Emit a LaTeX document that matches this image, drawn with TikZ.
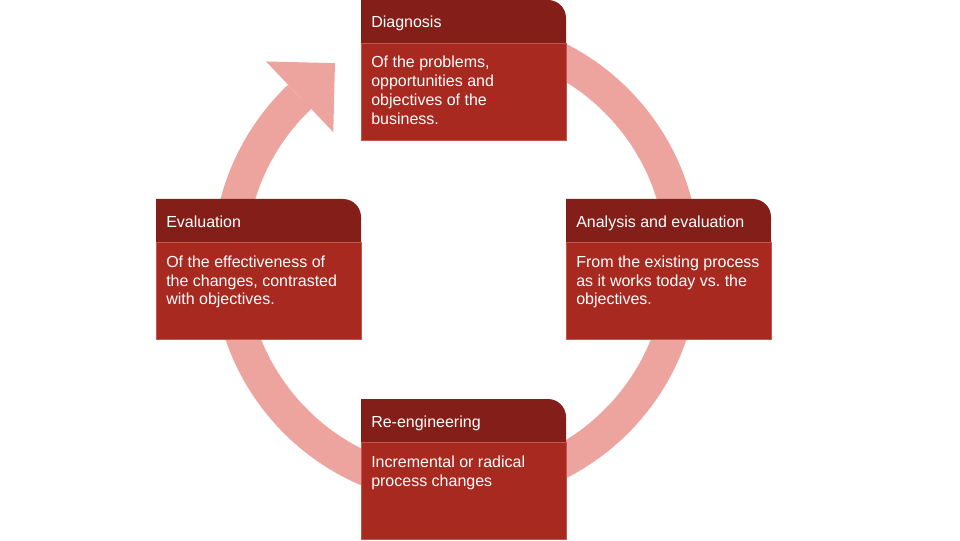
\documentclass[tikz,border=0pt]{standalone}
\usepackage{fontspec}
\setmainfont{Liberation Sans}
\usetikzlibrary{calc}
\definecolor{hdr}{HTML}{831F18}
\definecolor{bdy}{HTML}{A7291F}
\definecolor{ringc}{HTML}{EDA49E}
\definecolor{edgec}{HTML}{C0564C}
\newcommand\cyclebox[6]{%
  \fill[bdy] (#2,#3-140) rectangle (#2+205,#3-43);
  \fill[hdr] (#2,#3-43) -- (#2,#3) -- (#2+187,#3) arc[start angle=90,end angle=0,radius=18] -- (#2+205,#3-43) -- cycle;
  \draw[edgec, line width=0.5pt] (#2,#3-140) rectangle (#2+205,#3-43);
  \node[hdrtxt] (#1-t) at (#2+10,#3-28) {#4};
  \node[bodytxt] (#1-b) at (#2+10,#3-68) {\parbox[t]{142pt}{\raggedright #5}};
}
\begin{document}
\begin{tikzpicture}[x=0.75pt,y=0.75pt,
  hdrtxt/.style={anchor=base west, inner sep=0pt, text=white, font=\fontsize{12}{14.25}\selectfont},
  bodytxt/.style={anchor=base west, inner sep=0pt, text=white, font=\fontsize{12}{14.25}\selectfont}]
\useasboundingbox (0,0) rectangle (960,540);
% ring with arrow
\coordinate (C) at (456,279);
\draw[ringc, line width=25.1pt] ($(C)+(133.6:226.75)$) arc[start angle=133.6, end angle=460, radius=226.75];
\coordinate (P) at ($(C)+(133.6:226.75)$);
\fill[ringc] ($(P)+(133.6:48.8)$) -- ($(P)+(43.6:48.8)$) -- ($(P)+(-46.4:48.8)$) -- cycle;
% boxes
\cyclebox{diag}{361}{540}{Diagnosis}{Of the problems,\\opportunities and\\objectives of the\\business.}{}
\cyclebox{anal}{566}{341}{Analysis and evaluation}{From the existing process\\as it works today vs.\ the\\objectives.}{}
\cyclebox{eval}{156}{341}{Evaluation}{Of the effectiveness of\\the changes, contrasted\\with objectives.}{}
\cyclebox{reeng}{361}{141}{Re-engineering}{Incremental or radical\\process changes}{}
\end{tikzpicture}
\end{document}
